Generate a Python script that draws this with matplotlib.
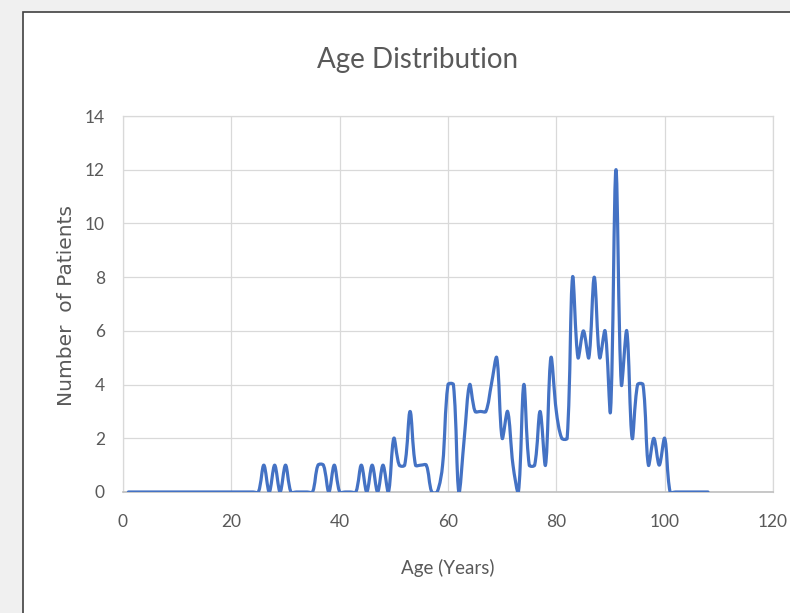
import matplotlib
matplotlib.use("Agg")
import matplotlib.pyplot as plt
from matplotlib.path import Path
from matplotlib.patches import PathPatch, Rectangle
import numpy as np

# ---- data ----
ages = list(range(1, 109))
counts = (
    [0] * 25 +                              # 1-25
    [1, 0, 1, 0, 1, 0, 0, 0, 0, 0] +        # 26-35
    [1, 1, 0, 1, 0, 0, 0, 0] +              # 36-43
    [1, 0, 1, 0, 1, 0, 2, 1, 1, 3] +        # 44-53
    [1, 1, 1, 0, 0, 1, 4, 4, 0, 2] +        # 54-63
    [4, 3, 3, 3, 4, 5, 2, 3, 1, 0] +        # 64-73
    [4, 1, 1, 3, 1, 5, 3, 2, 2, 8] +        # 74-83
    [5, 6, 5, 8, 5, 6, 3, 12, 4, 6] +       # 84-93
    [2, 4, 4, 1, 2, 1, 2, 0] +              # 94-101
    [0] * 7                                 # 102-108
)

x_ticks = [0, 20, 40, 60, 80, 100, 120]
y_ticks = [0, 2, 4, 6, 8, 10, 12, 14]

LINE_COLOR = "#4472C4"
TEXT_COLOR = "#595959"
GRID_COLOR = "#D9D9D9"

# pixel size of one data unit on screen (used to weight the smoothing)
PX_X = 650 / 120
PX_Y = 376 / 14


def smooth_path(x, y):
    """Excel-like smoothed line: cubic Bezier through every point,
    tangents weighted by on-screen segment lengths."""
    x = np.asarray(x, float)
    y = np.asarray(y, float)
    n = len(x)
    pts = np.column_stack([x, y])

    def dist(a, b):
        return np.hypot((b[0] - a[0]) * PX_X, (b[1] - a[1]) * PX_Y)

    verts = [tuple(pts[0])]
    codes = [Path.MOVETO]
    for i in range(n - 1):
        p0 = pts[max(i - 1, 0)]
        p1 = pts[i]
        p2 = pts[i + 1]
        p3 = pts[min(i + 2, n - 1)]
        d01, d12, d23 = dist(p0, p1), dist(p1, p2), dist(p2, p3)
        w1 = d12 / (d01 + d12) if d01 + d12 > 0 else 0.5
        w2 = d12 / (d12 + d23) if d12 + d23 > 0 else 0.5
        c1 = p1 + (p2 - p0) * w1 / 3.0
        c2 = p2 - (p3 - p1) * w2 / 3.0
        verts += [tuple(c1), tuple(c2), tuple(p2)]
        codes += [Path.CURVE4] * 3
    return Path(verts, codes)


fig = plt.figure(figsize=(7.9, 6.13), dpi=100, facecolor="#F0F0F0")

# white chart area with dark frame
fig.patches.append(Rectangle((23 / 790, -0.05), 1.1, 1 - 12 / 613 + 0.05,
                             transform=fig.transFigure, facecolor="white",
                             edgecolor="#404040", lw=1.2, zorder=-10))

ax = fig.add_axes([123 / 790, 1 - 492 / 613, 650 / 790, 376 / 613])
ax.set_facecolor("white")

patch = PathPatch(smooth_path(ages, counts), facecolor="none",
                  edgecolor=LINE_COLOR, lw=2.3, capstyle="round",
                  joinstyle="round", zorder=3)
ax.add_patch(patch)

ax.set_xlim(0, 120)
ax.set_ylim(0, 14)
ax.set_xticks(x_ticks)
ax.set_yticks(y_ticks)
ax.grid(True, color=GRID_COLOR, lw=0.9)
ax.set_axisbelow(True)
ax.tick_params(length=0, colors=TEXT_COLOR, labelsize=12.5)
ax.tick_params(axis="x", pad=16)
ax.tick_params(axis="y", pad=13)
for lab in ax.get_xticklabels() + ax.get_yticklabels():
    lab.set_family("Lato")
for side, spine in ax.spines.items():
    spine.set_color(GRID_COLOR)
    spine.set_linewidth(0.9)
ax.spines["bottom"].set_color("#BFBFBF")
ax.spines["bottom"].set_linewidth(1.2)

fig.text(418 / 790, 1 - 60 / 613, "Age Distribution", ha="center", va="center",
         fontsize=20, color=TEXT_COLOR, family="Lato")
fig.text(448 / 790, 1 - 568 / 613, "Age (Years)", ha="center", va="center",
         fontsize=13.5, color=TEXT_COLOR, family="Lato")
fig.text(66 / 790, 1 - 305 / 613, "Number  of Patients", ha="center",
         va="center", rotation=90, fontsize=14.5, color=TEXT_COLOR,
         family="DejaVu Sans")

fig.savefig("out.png", dpi=100, facecolor=fig.get_facecolor())
